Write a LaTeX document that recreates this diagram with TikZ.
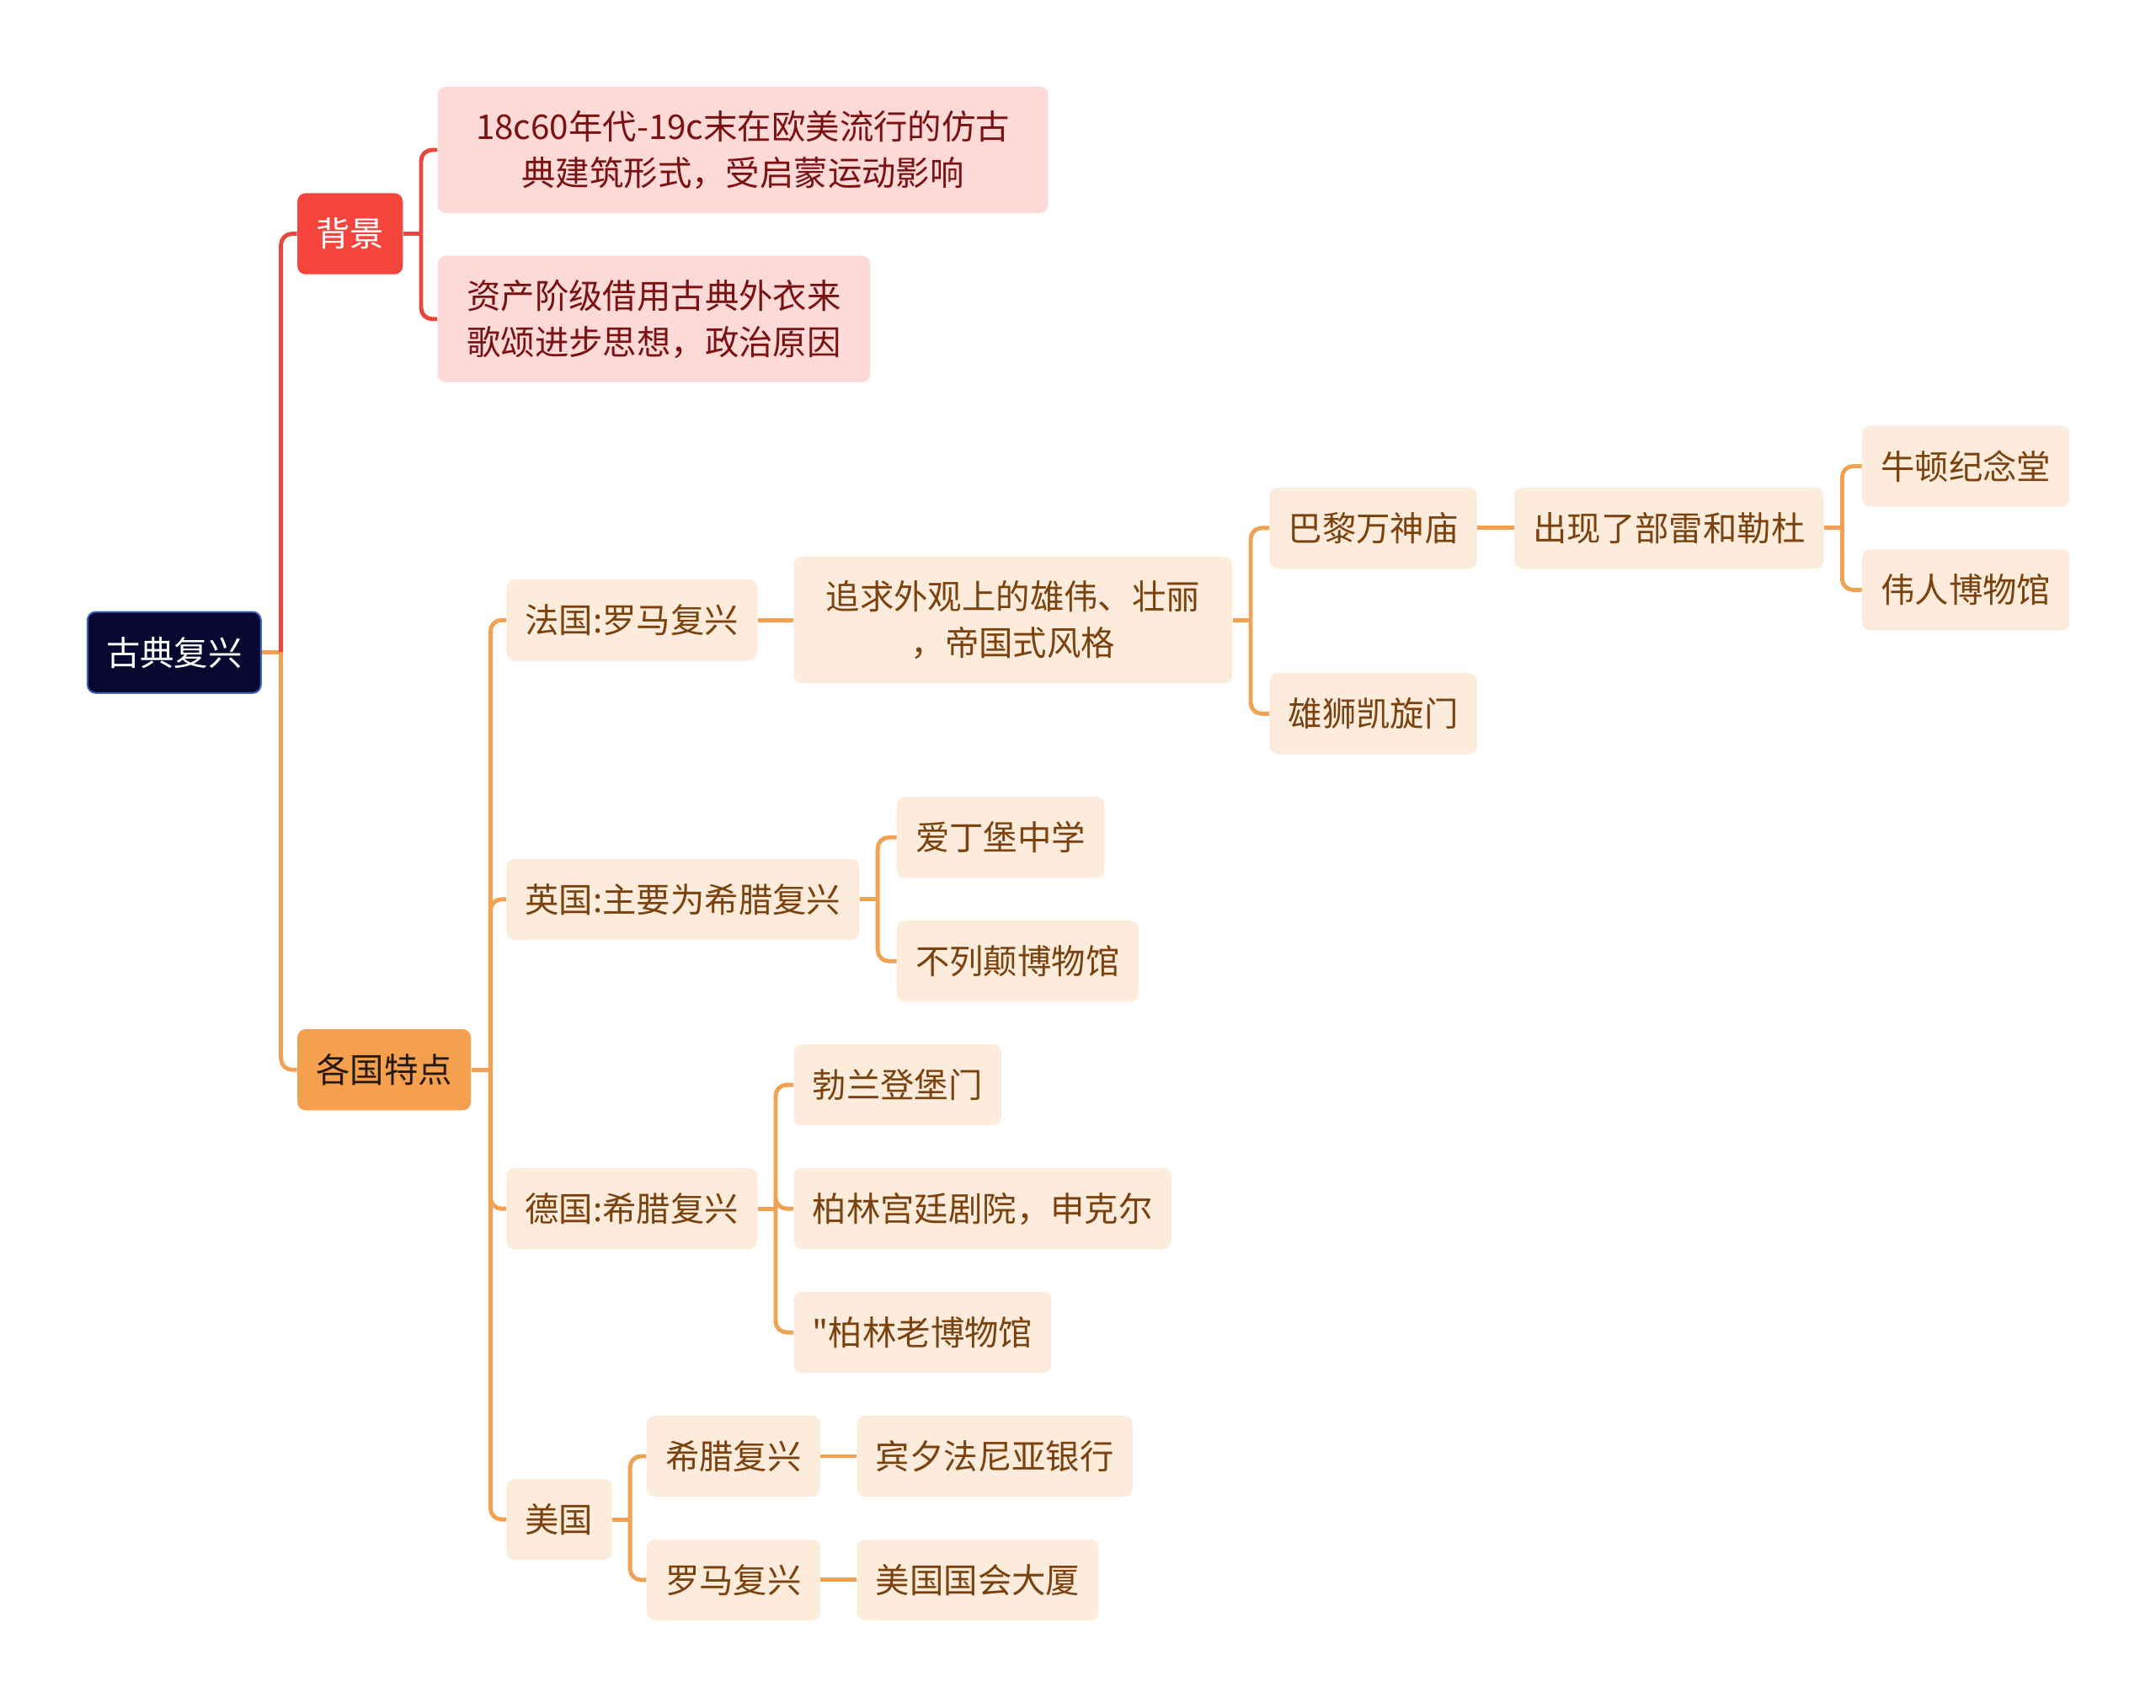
\documentclass[tikz,border=0pt]{standalone}
\usepackage{fontspec}
\setmainfont{Noto Sans CJK SC}
\newfontfamily\plaincjk{Noto Sans CJK SC}
\usetikzlibrary{calc}

\definecolor{rootfill}{HTML}{070730}
\definecolor{rootline}{HTML}{3A62C8}
\definecolor{bgred}{HTML}{F5453C}
\definecolor{redline}{HTML}{E8463E}
\definecolor{pinkfill}{HTML}{FDD9D8}
\definecolor{pinktext}{HTML}{7A1212}
\definecolor{orfill}{HTML}{F5A04E}
\definecolor{orline}{HTML}{F0A252}
\definecolor{peach}{HTML}{FDEBDC}
\definecolor{browntext}{HTML}{7A420E}

\tikzset{
  box/.style={rounded corners=1.5mm, inner xsep=3.4mm, inner ysep=0pt,
    minimum height=14.75mm, anchor=west,
    font=\fontsize{17.6}{24}\selectfont},
  leaf/.style={box, fill=peach, text=browntext},
  pinkbox/.style={box, fill=pinkfill, text=pinktext, inner xsep=5.3mm, minimum height=23mm},
  twoline/.style={leaf, inner xsep=5.3mm, minimum height=23mm, align=center},
  redconn/.style={draw=redline, line width=0.75mm, rounded corners=2mm},
  orconn/.style={draw=orline, line width=0.75mm, rounded corners=2mm}
}

\begin{document}
\begin{tikzpicture}[x=0.25mm, y=-0.25mm]
  \useasboundingbox (0,0) rectangle (1568,1242);

  % 根与一级
  \node[box, fill=rootfill, draw=rootline, line width=0.3mm, text=white] (root) at (63,474.5) {古典复兴};
  \node[box, fill=bgred, text=white] (bj) at (216,170) {背景};
  \node[box, fill=orfill, text=black!80!brown] (gg) at (216,778) {各国特点};

  % 背景
  \node[pinkbox, align=center, minimum width=111mm] (bg1) at (318,109) {18c60年代-19c末在欧美流行的仿古\\典建筑形式，受启蒙运动影响};
  \node[pinkbox, align=left] (bg2) at (318,232) {资产阶级借用古典外衣来\\歌颂进步思想，政治原因};

  % 法国
  \node[leaf] (fr) at (368,451) {法国:罗马复兴};
  \node[twoline, minimum width=79.75mm] (zq) at (577,451) {追求外观上的雄伟、壮丽\\，帝国式风格};
  \node[leaf] (bl) at (923,384) {巴黎万神庙};
  \node[leaf] (cx) at (1101,384) {出现了部雷和勒杜};
  \node[leaf] (nd) at (1354,339) {牛顿纪念堂};
  \node[leaf] (wr) at (1354,429) {伟人博物馆};
  \node[leaf] (xs) at (923,519) {雄狮凯旋门};

  % 英国
  \node[leaf] (yg) at (368,654) {英国:主要为希腊复兴};
  \node[leaf] (ad) at (652,609) {爱丁堡中学};
  \node[leaf] (bld) at (652,699) {不列颠博物馆};

  % 德国
  \node[leaf] (dg) at (368,879) {德国:希腊复兴};
  \node[leaf] (bdm) at (577,789) {勃兰登堡门};
  \node[leaf] (bjy) at (577,879) {柏林宫廷剧院，申克尔};
  \node[leaf] (blg) at (577,969) {{\plaincjk "}柏林老博物馆};

  % 美国
  \node[leaf] (mg) at (368,1105) {美国};
  \node[leaf] (xl) at (470,1059) {希腊复兴};
  \node[leaf] (lm) at (470,1149) {罗马复兴};
  \node[leaf] (bx) at (623,1059) {宾夕法尼亚银行};
  \node[leaf] (gh) at (623,1149) {美国国会大厦};

  % 分叉点
  \coordinate (rootfork) at ($(root.east)+(14,0)$);
  \coordinate (bjfork) at ($(bj.east)+(13,0)$);
  \coordinate (ggfork) at ($(gg.east)+(14,0)$);
  \coordinate (zqfork) at ($(zq.east)+(13,0)$);
  \coordinate (cxfork) at ($(cx.east)+(13,0)$);
  \coordinate (ygfork) at ($(yg.east)+(13,0)$);
  \coordinate (dgfork) at ($(dg.east)+(13,0)$);
  \coordinate (mgfork) at ($(mg.east)+(13,0)$);

  \path[orconn] (root.east) -- (rootfork);
  \path[redconn] (rootfork) |- (bj.west);
  \path[orconn] (rootfork) |- (gg.west);

  \path[redconn] (bj.east) -- (bjfork);
  \path[redconn] (bjfork) |- (bg1.west);
  \path[redconn] (bjfork) |- (bg2.west);

  \path[orconn] (gg.east) -- (ggfork);
  \foreach \c in {fr,yg,dg,mg}
    \path[orconn] (ggfork) |- (\c.west);

  \path[orconn] (fr.east) -- (zq.west);
  \path[orconn] (zq.east) -- (zqfork);
  \path[orconn] (zqfork) |- (bl.west);
  \path[orconn] (zqfork) |- (xs.west);
  \path[orconn] (bl.east) -- (cx.west);
  \path[orconn] (cx.east) -- (cxfork);
  \path[orconn] (cxfork) |- (nd.west);
  \path[orconn] (cxfork) |- (wr.west);

  \path[orconn] (yg.east) -- (ygfork);
  \path[orconn] (ygfork) |- (ad.west);
  \path[orconn] (ygfork) |- (bld.west);

  \path[orconn] (dg.east) -- (dgfork);
  \foreach \c in {bdm,bjy,blg}
    \path[orconn] (dgfork) |- (\c.west);

  \path[orconn] (mg.east) -- (mgfork);
  \path[orconn] (mgfork) |- (xl.west);
  \path[orconn] (mgfork) |- (lm.west);
  \path[orconn] (xl.east) -- (bx.west);
  \path[orconn] (lm.east) -- (gh.west);
\end{tikzpicture}
\end{document}
